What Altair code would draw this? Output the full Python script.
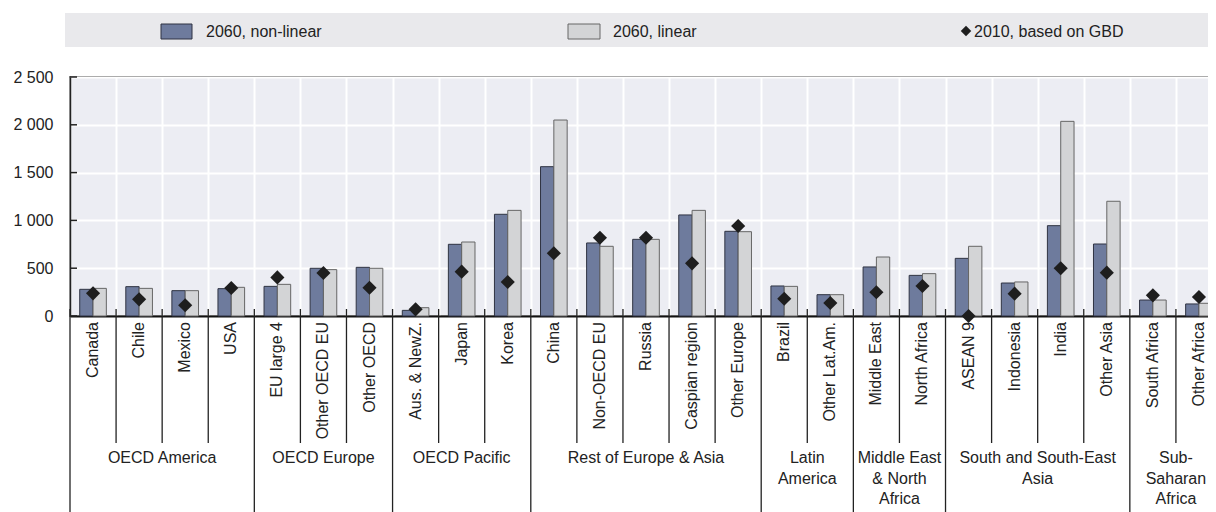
import altair as alt
import pandas as pd

FONT = "Liberation Sans"

categories = ["Canada", "Chile", "Mexico", "USA", "EU large 4", "Other OECD EU", "Other OECD",
              "Aus. & NewZ.", "Japan", "Korea", "China", "Non-OECD EU", "Russia", "Caspian region",
              "Other Europe", "Brazil", "Other Lat.Am.", "Middle East", "North Africa", "ASEAN 9",
              "Indonesia", "India", "Other Asia", "South Africa", "Other Africa"]
groups = ["OECD America", "OECD Europe", "OECD Pacific", "Rest of Europe & Asia", "Latin\nAmerica",
          "Middle East\n& North\nAfrica", "South and South-East\nAsia", "Sub-\nSaharan\nAfrica"]
group_sizes = [4, 3, 3, 5, 2, 2, 4, 2]
nonlinear_2060 = [279, 307, 265, 286, 310, 499, 509, 59, 750, 1064, 1562, 764, 802, 1057, 886,
                  314, 223, 513, 425, 603, 345, 945, 753, 167, 126]
linear_2060 = [289, 289, 265, 300, 331, 485, 499, 87, 774, 1105, 2050, 729, 802, 1105, 882,
               310, 223, 617, 443, 729, 356, 2036, 1200, 167, 133]
gbd_2010 = [237, 174, 112, 293, 404, 450, 296, 70, 464, 356, 656, 819, 819, 551, 941,
            181, 136, 248, 314, 0, 234, 499, 453, 216, 199]
series_names = ["2060, non-linear", "2060, linear", "2010, based on GBD"]
y_ticks = [0, 500, 1000, 1500, 2000, 2500]

NL_FILL, NL_STROKE = "#6e7b9d", "#2f3342"
L_FILL, L_STROKE = "#d3d4d6", "#666666"
DIAMOND = "#1e1e1e"
TEXT = "#222222"
W = 1152

# ---------- data tables ----------
bar_df = pd.DataFrame({
    "category": categories * 2,
    "series": [series_names[0]] * len(categories) + [series_names[1]] * len(categories),
    "value": nonlinear_2060 + linear_2060,
})
pt_df = pd.DataFrame({"category": categories, "value": gbd_2010})
tick_df = pd.DataFrame({"v": y_ticks})

group_starts = []
s = 0
for g in group_sizes:
    group_starts.append(s)
    s += g
cat_df = pd.DataFrame({"category": categories, "pos": [i + 0.5 for i in range(len(categories))]})
inner_df = pd.DataFrame({"pos": [i for i in range(1, len(categories)) if i not in group_starts]})
outer_df = pd.DataFrame({"pos": group_starts + [len(categories)]})
grp_df = pd.DataFrame({"group": groups,
                       "pos": [st + sz / 2 for st, sz in zip(group_starts, group_sizes)]})

# ---------- main plot ----------
bars = alt.Chart(bar_df).mark_bar(strokeWidth=1).encode(
    x=alt.X("category:N", sort=categories,
            scale=alt.Scale(paddingInner=0, paddingOuter=0),
            axis=alt.Axis(title=None, labels=False, ticks=False, domain=True,
                          domainColor="#111111", domainWidth=2, grid=True,
                          gridColor="white", gridWidth=2, tickBand="extent")),
    xOffset=alt.XOffset("series:N", sort=series_names[:2],
                        scale=alt.Scale(paddingInner=0, paddingOuter=0.73)),
    y=alt.Y("value:Q", scale=alt.Scale(domain=[0, 2500], nice=False),
            axis=alt.Axis(title=None, values=y_ticks, ticks=False, labelPadding=17,
                          labelExpr="replace(format(datum.value, ','), ',', ' ')",
                          labelFontSize=16, labelFont=FONT, labelColor=TEXT,
                          domain=True, domainColor="#222222", domainWidth=1.5,
                          grid=True, gridColor="white", gridWidth=2)),
    fill=alt.Fill("series:N", scale=alt.Scale(domain=series_names[:2], range=[NL_FILL, L_FILL]),
                  legend=None),
    stroke=alt.Stroke("series:N", scale=alt.Scale(domain=series_names[:2], range=[NL_STROKE, L_STROKE]),
                      legend=None),
)

pts = alt.Chart(pt_df).mark_point(shape="diamond", filled=True, size=200, color=DIAMOND,
                                  opacity=1).encode(
    x=alt.X("category:N", sort=categories),
    y=alt.Y("value:Q"),
)

yticks = alt.Chart(tick_df).mark_rule(color="#222222", strokeWidth=1.5).encode(
    y=alt.Y("v:Q"), x=alt.value(0), x2=alt.value(7))

main = alt.layer(bars, pts, yticks).properties(
    width=W, height=239,
    view=alt.ViewBackground(fill="#ecedf3", stroke="#222222", strokeWidth=1.5))

# ---------- legend panel ----------
one = pd.DataFrame({"s": [""]})
leg_bg = alt.Chart(one).mark_rect(color="#e9e9ec").encode(
    x=alt.value(-5), x2=alt.value(W), y=alt.value(0), y2=alt.value(34))
leg1 = pd.DataFrame({"s": [series_names[0]]})
leg2 = pd.DataFrame({"s": [series_names[1]]})
leg3 = pd.DataFrame({"s": [series_names[2]]})
sw1 = alt.Chart(leg1).mark_rect(fill=NL_FILL, stroke=NL_STROKE, strokeWidth=1).encode(
    x=alt.value(91), x2=alt.value(122), y=alt.value(11), y2=alt.value(26))
tx1 = alt.Chart(leg1).mark_text(align="left", baseline="middle", fontSize=16, font=FONT,
                                color=TEXT).encode(x=alt.value(136), y=alt.value(19), text="s:N")
sw2 = alt.Chart(leg2).mark_rect(fill=L_FILL, stroke=L_STROKE, strokeWidth=1).encode(
    x=alt.value(498), x2=alt.value(530), y=alt.value(11), y2=alt.value(26))
tx2 = alt.Chart(leg2).mark_text(align="left", baseline="middle", fontSize=16, font=FONT,
                                color=TEXT).encode(x=alt.value(543), y=alt.value(19), text="s:N")
sw3 = alt.Chart(leg3).mark_point(shape="diamond", filled=True, size=110, color=DIAMOND,
                                 opacity=1).encode(x=alt.value(896), y=alt.value(18))
tx3 = alt.Chart(leg3).mark_text(align="left", baseline="middle", fontSize=16, font=FONT,
                                color=TEXT).encode(x=alt.value(904), y=alt.value(19), text="s:N")
legend = alt.layer(leg_bg, sw1, tx1, sw2, tx2, sw3, tx3).properties(
    width=W, height=64, view=alt.ViewBackground(fill="transparent", stroke="transparent"))

# ---------- category / group label panel ----------
xs = alt.Scale(domain=[0, len(categories)], nice=False, zero=False)
cat_text = alt.Chart(cat_df).mark_text(angle=270, align="right", baseline="middle", fontSize=16,
                                       font=FONT, color=TEXT).encode(
    x=alt.X("pos:Q", scale=xs, axis=None), y=alt.value(6), text="category:N")
inner = alt.Chart(inner_df).mark_rule(color="#222222", strokeWidth=1.3).encode(
    x=alt.X("pos:Q", scale=xs, axis=None), y=alt.value(-7), y2=alt.value(127))
outer = alt.Chart(outer_df).mark_rule(color="#222222", strokeWidth=1.3).encode(
    x=alt.X("pos:Q", scale=xs, axis=None), y=alt.value(-7), y2=alt.value(215))
grp_text = alt.Chart(grp_df).mark_text(align="center", baseline="top", lineBreak="\n",
                                       lineHeight=20.5, fontSize=16, font=FONT, color=TEXT).encode(
    x=alt.X("pos:Q", scale=xs, axis=None), y=alt.value(134), text="group:N")
labels = alt.layer(inner, outer, cat_text, grp_text).properties(
    width=W, height=200, view=alt.ViewBackground(fill="transparent", stroke="transparent"))

chart = alt.vconcat(legend, main, labels, spacing=0, bounds="flush").properties(
    padding={"left": 4, "top": 4, "right": -16, "bottom": 0}
).configure(font=FONT)

chart.save("out.html", embed_options={"renderer": "svg", "actions": False})
